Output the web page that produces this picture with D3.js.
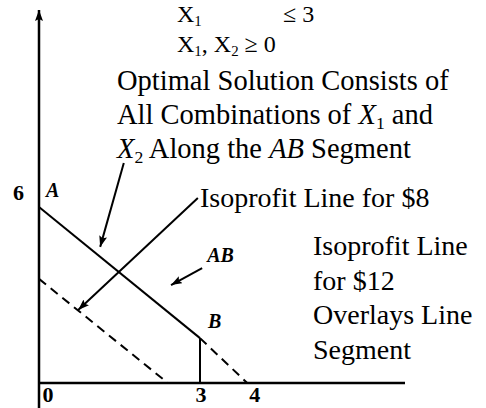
<!DOCTYPE html>
<html><head><meta charset="utf-8">
<script src="https://cdn.jsdelivr.net/npm/d3@7"></script>
<style>
body{margin:0;background:#fff}
svg{display:block}
text{font-family:"Liberation Serif","Times New Roman",serif;fill:#000}
</style>
</head><body><svg id="chart" width="486" height="408"></svg>
<script>
// Corner points of the optimal AB segment on the $12 isoprofit line
const cornerLabels = ["A", "B"];
const cornerX = [0, 3];
const cornerY = [6, 1.53];
// Axis tick labels
const xTicks = [0, 3, 4];
const yTicks = [6];
// $12 isoprofit line continues beyond B (dashed) to the X1 axis
const overlayTailX = [3, 3.88];
const overlayTailY = [1.53, 0];
// $8 isoprofit line (dashed)
const iso8X = [0, 2.4];
const iso8Y = [3.55, 0];
// Constraint boundary X1 = 3, from B down to the axis
const boundaryX = [3, 3];
const boundaryY = [1.53, 0];
// Annotation arrows (tail -> head)
const arrowFromX = [1.58, 2.96, 3.04];
const arrowFromY = [7.5, 6.31, 3.92];
const arrowToX = [1.14, 0.73, 2.46];
const arrowToY = [4.64, 2.49, 3.34];

const svg = d3.select("#chart");
const x = d3.scaleLinear().domain([0, 3]).range([39, 200]);
const y = d3.scaleLinear().domain([0, 6]).range([383, 207]);
const pts = (xs, ys) => xs.map((v, i) => [x(v), y(ys[i])]);
const line = d3.line();

const defs = svg.append("defs");
defs.append("marker").attr("id", "head")
  .attr("markerUnits", "userSpaceOnUse")
  .attr("markerWidth", 12).attr("markerHeight", 10)
  .attr("refX", 11).attr("refY", 4).attr("orient", "auto")
  .append("path").attr("d", "M0,0 L11,4 L0,8 L2,4 z").attr("fill", "#000");

// Axes
svg.append("line").attr("x1", x(0)).attr("x2", x(0)).attr("y1", 408).attr("y2", 10)
  .attr("stroke", "#000").attr("stroke-width", 2.5).attr("marker-end", "url(#head)");
svg.append("line").attr("x1", x(0)).attr("x2", 405).attr("y1", y(0)).attr("y2", y(0))
  .attr("stroke", "#000").attr("stroke-width", 2.5);

// Tick labels
svg.selectAll("text.xt").data(xTicks).join("text").attr("class", "xt")
  .attr("x", d => x(d) + (d === 0 ? 9 : 1)).attr("y", 402)
  .attr("text-anchor", "middle").attr("font-size", 22).attr("font-weight", "bold")
  .text(d => d);
svg.selectAll("text.yt").data(yTicks).join("text").attr("class", "yt")
  .attr("x", x(0) - 15).attr("y", d => y(d) - 7)
  .attr("text-anchor", "end").attr("font-size", 22).attr("font-weight", "bold")
  .text(d => d);

// Lines
svg.append("path").attr("d", line(pts(cornerX, cornerY)))
  .attr("fill", "none").attr("stroke", "#000").attr("stroke-width", 2);
svg.append("path").attr("d", line(pts(boundaryX, boundaryY)))
  .attr("fill", "none").attr("stroke", "#000").attr("stroke-width", 2);
svg.append("path").attr("d", line(pts(overlayTailX, overlayTailY)))
  .attr("fill", "none").attr("stroke", "#000").attr("stroke-width", 2)
  .attr("stroke-dasharray", "9,6");
svg.append("path").attr("d", line(pts(iso8X, iso8Y)))
  .attr("fill", "none").attr("stroke", "#000").attr("stroke-width", 2)
  .attr("stroke-dasharray", "9,6");

// Arrows
svg.selectAll("line.arrow").data(arrowFromX).join("line").attr("class", "arrow")
  .attr("x1", (d, i) => x(arrowFromX[i])).attr("y1", (d, i) => y(arrowFromY[i]))
  .attr("x2", (d, i) => x(arrowToX[i])).attr("y2", (d, i) => y(arrowToY[i]))
  .attr("stroke", "#000").attr("stroke-width", 2).attr("marker-end", "url(#head)");

// Corner labels
svg.selectAll("text.corner").data(cornerLabels).join("text").attr("class", "corner")
  .attr("x", (d, i) => x(cornerX[i]) + (i === 0 ? 7 : 8))
  .attr("y", (d, i) => y(cornerY[i]) - 10)
  .attr("font-size", 20).attr("font-weight", "bold").attr("font-style", "italic")
  .text(d => d);
svg.append("text").attr("x", x(arrowFromX[2]) + 5).attr("y", y(arrowFromY[2]) - 6)
  .attr("font-size", 20).attr("font-weight", "bold").attr("font-style", "italic")
  .text("AB");

// Helper: text line built from [string, style] runs
function richLine(px, py, size, runs) {
  const t = svg.append("text").attr("x", px).attr("y", py).attr("font-size", size);
  runs.forEach(r => {
    const s = t.append("tspan").text(r.t);
    if (r.i) s.attr("font-style", "italic");
    if (r.sub) s.attr("font-size", size * 0.62).attr("dy", size * 0.18);
    if (r.up) s.attr("dy", -size * 0.18);
  });
  return t;
}

// Constraint summary
richLine(177, 22, 24, [{t: "X"}, {t: "1", sub: true}]);
svg.append("text").attr("x", 283).attr("y", 22).attr("font-size", 24).text("≤ 3");
richLine(177, 52, 24, [{t: "X"}, {t: "1", sub: true}, {t: ", X", up: true}, {t: "2", sub: true}, {t: " ≥ 0", up: true}]);

// Optimal solution note
richLine(117, 90, 28.5, [{t: "Optimal Solution Consists of"}]);
richLine(117, 124, 28.5, [{t: "All Combinations of "}, {t: "X", i: true}, {t: "1", sub: true}, {t: " and", up: true}]);
richLine(117, 158, 28.5, [{t: "X", i: true}, {t: "2", sub: true}, {t: " Along the ", up: true}, {t: "AB", i: true}, {t: " Segment"}]);

// Isoprofit notes
richLine(200, 207, 28, [{t: "Isoprofit Line for $8"}]);
["Isoprofit Line", "for $12", "Overlays Line", "Segment"].forEach((s, i) =>
  richLine(313, 255 + i * 34.5, 28, [{t: s}]));
</script>
</body></html>
